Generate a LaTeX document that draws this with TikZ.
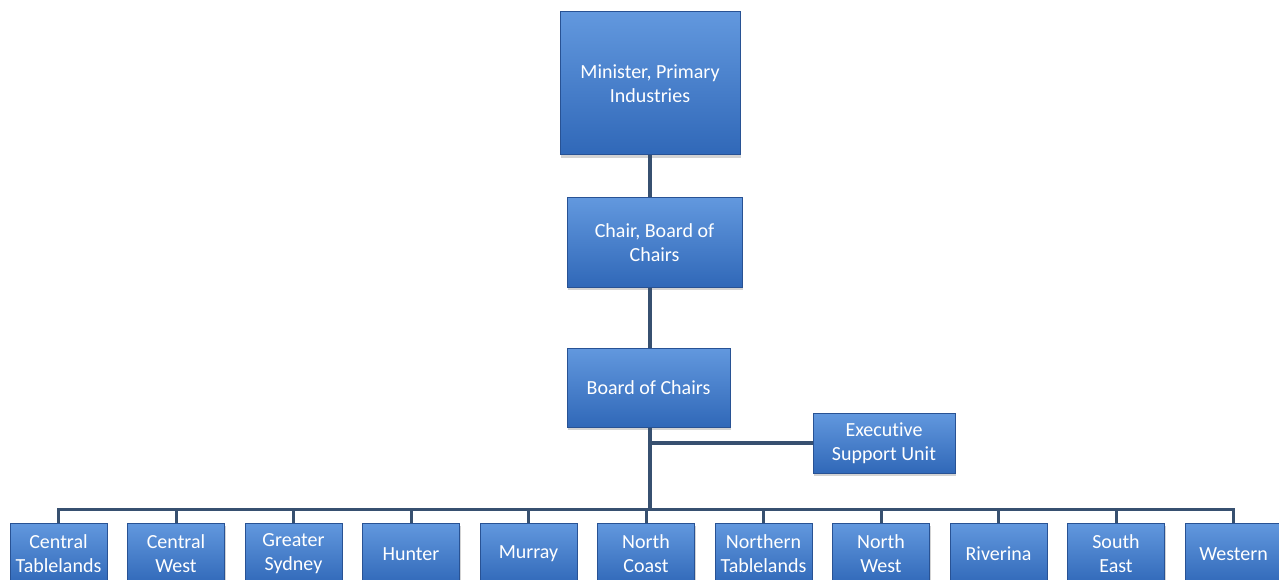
\documentclass[tikz,border=0pt]{standalone}
\usepackage{fontspec}
\setmainfont[Ligatures=NoCommon]{Carlito}
\usetikzlibrary{shadows}
\definecolor{boxtop}{RGB}{98,152,222}
\definecolor{boxbot}{RGB}{48,104,184}
\definecolor{boxedge}{RGB}{40,82,148}
\definecolor{linec}{RGB}{55,80,112}
\begin{document}
\begin{tikzpicture}[x=1pt,y=-1pt,
  orgbox/.style={rectangle, draw=boxedge, line width=1pt, top color=boxtop, bottom color=boxbot,
    text=white, align=center, inner sep=0pt, font=\fontsize{20}{24}\selectfont,
    drop shadow={opacity=0.35, shadow xshift=1pt, shadow yshift=-3pt}},
  regbox/.style={orgbox, minimum width=97pt, minimum height=62pt},
  conn/.style={draw=linec, line width=3.5pt}]
\useasboundingbox (0,0) rectangle (1279,580);
\clip (0,0) rectangle (1279,580);
\node[orgbox, minimum width=180pt, minimum height=143pt] (min) at (650,83.5) {Minister, Primary\\Industries};
\node[orgbox, minimum width=175pt, minimum height=89pt] (chair) at (654.5,242.5) {Chair, Board of\\Chairs};
\node[orgbox, minimum width=163pt, minimum height=79pt] (board) at (648.5,387.5) {Board of Chairs};
\node[orgbox, minimum width=142pt, minimum height=60pt] (exec) at (884,443) {Executive\\Support Unit};
\coordinate (bus) at (650,509.5);
\coordinate (trunk) at (650,155);
\foreach \i/\t in {0/{Central\\Tablelands},1/{Central\\West},2/{Greater\\Sydney},3/{Hunter},4/{Murray},5/{North\\Coast},6/{Northern\\Tablelands},7/{North\\West},8/{Riverina},9/{South\\East},10/{Western}}{
  \node[regbox] (r\i) at ({58.5+117.5*\i},554) {\t};
}
\draw[conn] (trunk |- min.south) -- (trunk |- chair.north);
\draw[conn] (trunk |- chair.south) -- (trunk |- board.north);
\draw[conn] (trunk |- board.south) -- (bus);
\draw[conn] (exec.west) -- (exec.west -| bus);
\draw[conn, line width=3pt] (r0.north) -- (r0.north |- bus) -- (r10.north |- bus) -- (r10.north);
\foreach \i in {1,...,9}{
  \draw[conn, line width=3pt] (r\i.north) -- (r\i.north |- bus);
}
\end{tikzpicture}
\end{document}
